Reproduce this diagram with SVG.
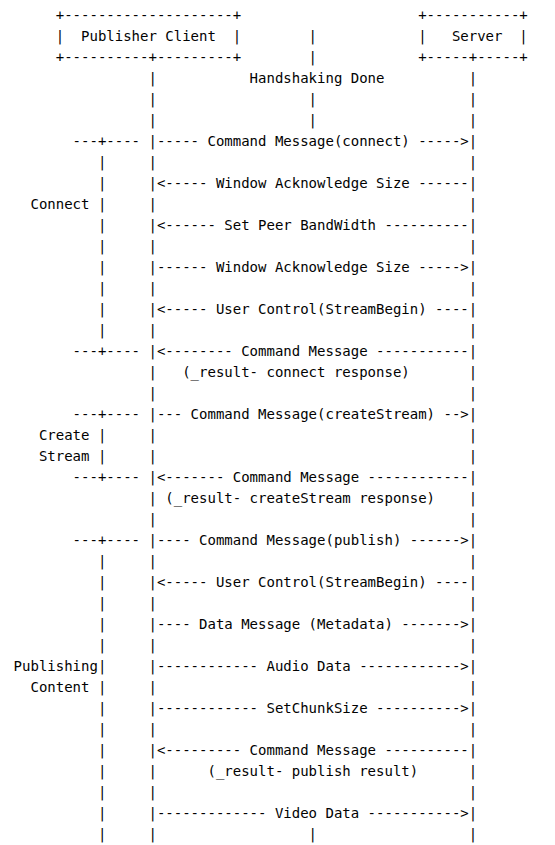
<svg xmlns="http://www.w3.org/2000/svg" width="555" height="845" viewBox="0 0 555 845">
<style>
text{font-family:"DejaVu Sans Mono","Liberation Mono",monospace;font-size:14px;fill:#000;white-space:pre}
</style>
<rect width="555" height="845" fill="#fff"/>
<g id="diagram" opacity="0.99">
<g id="publisher-client">
<text xml:space="preserve" x="55.74" y="20">+--------------------+</text>
<text xml:space="preserve" x="55.74" y="41">|  Publisher Client  |</text>
<text xml:space="preserve" x="55.74" y="62">+----------+---------+</text>
</g>
<g id="server">
<text xml:space="preserve" x="418.18" y="20">+-----------+</text>
<text xml:space="preserve" x="418.18" y="41">|   Server  |</text>
<text xml:space="preserve" x="418.18" y="62">+-----+-----+</text>
</g>
<g id="handshake">
<text x="308.6" y="41">|</text>
<text x="308.6" y="62">|</text>
<text x="249.6" y="83">Handshaking Done</text>
<text x="308.6" y="104">|</text>
<text x="308.6" y="125">|</text>
<text x="308.6" y="839">|</text>
</g>
<g id="phase-connect">
<text x="72.6" y="146">---+----</text>
<text x="97.89" y="167">|</text>
<text x="97.89" y="188">|</text>
<text xml:space="preserve" x="30.46" y="209">Connect |</text>
<text x="97.89" y="230">|</text>
<text x="97.89" y="251">|</text>
<text x="97.89" y="272">|</text>
<text x="97.89" y="293">|</text>
<text x="97.89" y="314">|</text>
<text x="97.89" y="335">|</text>
<text x="72.6" y="356">---+----</text>
</g>
<g id="phase-create-stream">
<text x="72.6" y="419">---+----</text>
<text xml:space="preserve" x="38.89" y="440">Create |</text>
<text xml:space="preserve" x="38.89" y="461">Stream |</text>
<text x="72.6" y="482">---+----</text>
</g>
<g id="phase-publishing">
<text x="72.6" y="545">---+----</text>
<text x="97.89" y="566">|</text>
<text x="97.89" y="587">|</text>
<text x="97.89" y="608">|</text>
<text x="97.89" y="629">|</text>
<text x="97.89" y="650">|</text>
<text x="13.6" y="671">Publishing|</text>
<text xml:space="preserve" x="30.46" y="692">Content |</text>
<text x="97.89" y="713">|</text>
<text x="97.89" y="734">|</text>
<text x="97.89" y="755">|</text>
<text x="97.89" y="776">|</text>
<text x="97.89" y="797">|</text>
<text x="97.89" y="818">|</text>
<text x="97.89" y="839">|</text>
</g>
<g id="connectors">
<text x="148.46" y="83">|</text><text x="468.75" y="83">|</text>
<text x="148.46" y="104">|</text><text x="468.75" y="104">|</text>
<text x="148.46" y="125">|</text><text x="468.75" y="125">|</text>
<text xml:space="preserve" x="148.46" y="146">|----- Command Message(connect) ----->|</text>
<text x="148.46" y="167">|</text><text x="468.75" y="167">|</text>
<text xml:space="preserve" x="148.46" y="188">|&lt;----- Window Acknowledge Size ------|</text>
<text x="148.46" y="209">|</text><text x="468.75" y="209">|</text>
<text xml:space="preserve" x="148.46" y="230">|&lt;------ Set Peer BandWidth ----------|</text>
<text x="148.46" y="251">|</text><text x="468.75" y="251">|</text>
<text xml:space="preserve" x="148.46" y="272">|------ Window Acknowledge Size -----&gt;|</text>
<text x="148.46" y="293">|</text><text x="468.75" y="293">|</text>
<text xml:space="preserve" x="148.46" y="314">|&lt;----- User Control(StreamBegin) ----|</text>
<text x="148.46" y="335">|</text><text x="468.75" y="335">|</text>
<text xml:space="preserve" x="148.46" y="356">|&lt;-------- Command Message -----------|</text>
<text xml:space="preserve" x="148.46" y="377">|   (_result- connect response)       |</text>
<text x="148.46" y="398">|</text><text x="468.75" y="398">|</text>
<text xml:space="preserve" x="148.46" y="419">|--- Command Message(createStream) --&gt;|</text>
<text x="148.46" y="440">|</text><text x="468.75" y="440">|</text>
<text x="148.46" y="461">|</text><text x="468.75" y="461">|</text>
<text xml:space="preserve" x="148.46" y="482">|&lt;------- Command Message ------------|</text>
<text xml:space="preserve" x="148.46" y="503">| (_result- createStream response)    |</text>
<text x="148.46" y="524">|</text><text x="468.75" y="524">|</text>
<text xml:space="preserve" x="148.46" y="545">|---- Command Message(publish) ------&gt;|</text>
<text x="148.46" y="566">|</text><text x="468.75" y="566">|</text>
<text xml:space="preserve" x="148.46" y="587">|&lt;----- User Control(StreamBegin) ----|</text>
<text x="148.46" y="608">|</text><text x="468.75" y="608">|</text>
<text xml:space="preserve" x="148.46" y="629">|---- Data Message (Metadata) -------&gt;|</text>
<text x="148.46" y="650">|</text><text x="468.75" y="650">|</text>
<text xml:space="preserve" x="148.46" y="671">|------------ Audio Data ------------&gt;|</text>
<text x="148.46" y="692">|</text><text x="468.75" y="692">|</text>
<text xml:space="preserve" x="148.46" y="713">|------------ SetChunkSize ----------&gt;|</text>
<text x="148.46" y="734">|</text><text x="468.75" y="734">|</text>
<text xml:space="preserve" x="148.46" y="755">|&lt;--------- Command Message ----------|</text>
<text xml:space="preserve" x="148.46" y="776">|      (_result- publish result)      |</text>
<text x="148.46" y="797">|</text><text x="468.75" y="797">|</text>
<text xml:space="preserve" x="148.46" y="818">|------------- Video Data -----------&gt;|</text>
<text x="148.46" y="839">|</text><text x="468.75" y="839">|</text>
</g>
</g>
</svg>
